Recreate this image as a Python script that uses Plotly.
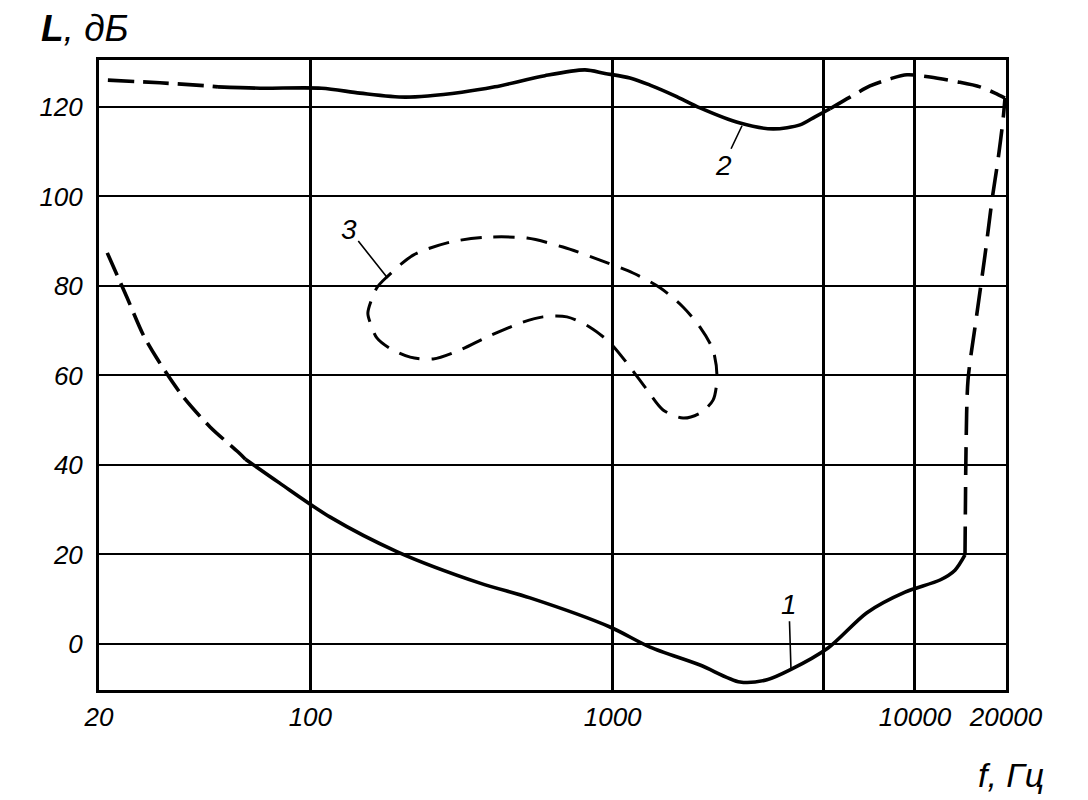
import math
import plotly.graph_objects as go

# ---------------- data (frequency in Hz, level in dB) ----------------
# Curve 1: threshold of hearing
c1_left_f = [21.3, 24.8, 28, 31.3, 37.6, 46.6, 57.7, 61]
c1_left_db = [87.4, 77.3, 69.1, 63.5, 55.6, 48.5, 42.9, 41.3]
c1_mid_f = [61, 79, 116, 194, 364, 533, 980, 1329, 1945, 2638,
            3240, 3860, 5156, 6934, 9268, 12100, 13560, 14636]
c1_mid_db = [41.3, 36.0, 28.4, 20.6, 13.6, 10.3, 3.8, -0.7, -4.7, -8.5,
             -8.0, -5.8, -0.9, 7.0, 11.6, 14.3, 16.5, 19.9]
c1_right_f = [14636, 14690, 14750, 14976, 15916, 17046, 17978, 18820, 19550, 19848]
c1_right_db = [19.9, 32.2, 43.4, 59.0, 72.4, 86.9, 99.2, 108.2, 117.1, 122.0]

# Curve 2: threshold of pain
c2_left_f = [21.4, 31.8, 45.9, 49.5]
c2_left_db = [126.0, 125.4, 124.7, 124.5]
c2_mid_f = [49.5, 68.2, 109, 146, 206, 317, 408, 597, 810, 943, 1141, 1329, 1608,
            1945, 2638, 3392, 4166, 4670, 5234]
c2_mid_db = [124.5, 124.2, 124.2, 123.1, 122.2, 123.3, 124.5, 127.0, 128.3, 127.5, 126.5,
             124.9, 122.5, 119.8, 116.4, 115.1, 116.0, 117.8, 119.6]
c2_right_f = [5234, 6096, 7098, 8270, 9412, 11216, 13878, 16408, 18394, 19848]
c2_right_db = [119.6, 122.2, 124.7, 126.3, 127.2, 126.7, 125.6, 124.5, 123.1, 122.0]

# Curve 3: speech area (closed contour)
c3_f = [155, 166, 179, 219, 290, 384, 521, 685, 908, 1168, 1435, 1709, 1945, 2148, 2214,
        2148, 1945, 1709, 1468, 1299, 1141, 980, 841, 706, 588, 494, 384, 313, 255, 214,
        183, 166, 158, 155]
c3_db = [74.0, 79.6, 82.0, 86.9, 89.8, 90.9, 90.7, 88.7, 85.8, 82.9, 79.6, 75.3, 70.8, 65.7,
         59.7, 54.5, 51.6, 50.5, 52.3, 56.8, 61.9, 67.3, 70.8, 73.1, 73.1, 71.7, 68.6, 65.7,
         63.7, 64.1, 66.1, 68.4, 71.7, 74.0]

# Curve labels: (text, anchor frequency, anchor level, pixel offset x, pixel offset y)
labels = [("1", 3888, -5.4, -2, -64),
          ("2", 2678, 115.8, -19, 40),
          ("3", 179, 82.0, -38, -48)]

x_tick_vals = [20, 100, 1000, 5000, 10000, 20000]
x_tick_text = ["20", "100", "1000", "", "10000", "20000"]
y_tick_vals = [0, 20, 40, 60, 80, 100, 120]
y_tick_text = ["0", "20", "40", "60", "80", "100", "120"]

FONT = "Liberation Sans"

fig = go.Figure()


def add(xs, ys, dash, width=3.6):
    fig.add_trace(go.Scatter(x=xs, y=ys, mode="lines",
                             line=dict(color="black", width=width, dash=dash,
                                       shape="spline", smoothing=0.8),
                             showlegend=False, hoverinfo="skip"))


add(c1_left_f, c1_left_db, "24px,9px")
add(c1_mid_f, c1_mid_db, "solid")
add(c1_right_f, c1_right_db, "28px,12px")
add(c2_left_f, c2_left_db, "26px,9px")
add(c2_mid_f, c2_mid_db, "solid")
add(c2_right_f, c2_right_db, "24px,10px")
add(c3_f, c3_db, "21px,12px", width=3)

for text, f, db, ax, ay in labels:
    fig.add_annotation(x=math.log10(f), y=db, xref="x", yref="y", text=text,
                       showarrow=True, arrowhead=0, arrowwidth=1.6, arrowcolor="black",
                       ax=ax, ay=ay, standoff=0,
                       font=dict(family=FONT, size=28, color="black", style="italic"))

fig.add_annotation(xref="paper", yref="paper", x=-0.066, y=1.05, xanchor="left",
                   yanchor="middle", showarrow=False,
                   text="<b>L</b>, дБ",
                   font=dict(family=FONT, size=37, color="black", style="italic"))
fig.add_annotation(xref="paper", yref="paper", x=1.005, y=-0.135, xanchor="center",
                   yanchor="middle", showarrow=False,
                   text="f, Гц",
                   font=dict(family=FONT, size=34, color="black", style="italic"))

fig.update_xaxes(type="log", range=[math.log10(20), math.log10(20000)],
                 tickvals=x_tick_vals, ticktext=x_tick_text,
                 showgrid=True, gridcolor="black", gridwidth=3,
                 showline=True, linecolor="black", linewidth=3, mirror=True,
                 ticks="", ticklabelstandoff=2, zeroline=False,
                 tickfont=dict(family=FONT, size=26, color="black", style="italic"))
fig.update_yaxes(range=[-10.28, 130.5],
                 tickvals=y_tick_vals, ticktext=y_tick_text,
                 showgrid=True, gridcolor="black", gridwidth=2,
                 showline=True, linecolor="black", linewidth=3, mirror=True,
                 ticks="", ticklabelstandoff=8, zeroline=False,
                 tickfont=dict(family=FONT, size=26, color="black", style="italic"))

# page body adds an 8px margin, so the figure is sized/margined to compensate
fig.update_layout(width=1080, height=792,
                  margin=dict(l=91, r=82, t=52, b=110),
                  paper_bgcolor="white", plot_bgcolor="white")

fig.write_html("out.html")
